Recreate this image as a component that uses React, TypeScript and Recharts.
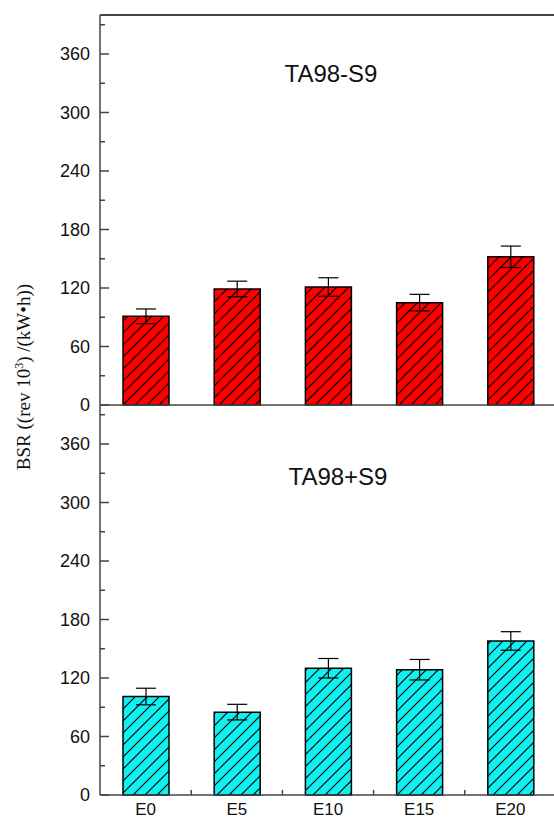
import React from 'react';
import { BarChart, Bar, XAxis, YAxis, ErrorBar, ReferenceLine } from 'recharts';

const categories = ['E0', 'E5', 'E10', 'E15', 'E20'];
const minusS9Values = [91, 119, 121, 105, 152];
const minusS9Errors = [7.5, 8, 9.5, 8.5, 11];
const plusS9Values = [101, 85, 130, 128.5, 158];
const plusS9Errors = [8.5, 8, 10, 10.5, 9.5];
const yTicks = [0, 30, 60, 90, 120, 150, 180, 210, 240, 270, 300, 330, 360, 390];
const yDomain = [0, 400];

const topData = categories.map((c, i) => ({ cat: c, value: minusS9Values[i], err: minusS9Errors[i] }));
const bottomData = categories.map((c, i) => ({ cat: c, value: plusS9Values[i], err: plusS9Errors[i] }));

const CHART_W = 570;
const Y_AXIS_W = 100;
const MARGIN_R = 14;
const PLOT_W = CHART_W - Y_AXIS_W - MARGIN_R;
const HALF_BAND = PLOT_W / categories.length / 2;
const AXIS_COLOR = '#444';
const SANS = '"Liberation Sans", Arial, sans-serif';
const SERIF = '"Liberation Serif", "Times New Roman", serif';

const YTick = (props: any) => {
  const { x, y, payload } = props;
  const v = payload.value;
  const major = v % 60 === 0;
  const ax = x + 10;
  return (
    <g>
      <line x1={ax} x2={ax + (major ? 9 : 5)} y1={y} y2={y} stroke={AXIS_COLOR} strokeWidth={1.5} />
      {major && (
        <text x={x} y={y} textAnchor="end" dominantBaseline="central" fontFamily={SANS} fontSize={18} fill="#111">
          {v}
        </text>
      )}
    </g>
  );
};

const XTick = (props: any) => {
  const { x, y, payload, index } = props;
  return (
    <g>
      {index > 0 && (
        <line x1={x - HALF_BAND} x2={x - HALF_BAND} y1={y} y2={y - 5} stroke={AXIS_COLOR} strokeWidth={1.5} />
      )}
      <text x={x} y={y + 20} textAnchor="middle" fontFamily={SANS} fontSize={17} fill="#111">
        {payload.value}
      </text>
    </g>
  );
};

const Hatch = ({ id, color }: { id: string; color: string }) => (
  <pattern id={id} patternUnits="userSpaceOnUse" width={12} height={12}>
    <rect width={12} height={12} fill={color} />
    <path d="M-1,1 L1,-1 M0,12 L12,0 M11,13 L13,11" stroke="#000" strokeWidth={1.2} />
  </pattern>
);

export default function App() {
  return (
    <div style={{ position: 'absolute', left: 0, top: 0, width: 554, height: 818, overflow: 'hidden', background: '#fff' }}>
      <div style={{ position: 'absolute', left: 0, top: 0 }}>
        <BarChart width={CHART_W} height={420} data={topData} margin={{ top: 15, right: MARGIN_R, bottom: 15, left: 0 }}>
          <defs>
            <Hatch id="hatchRed" color="#ff0000" />
          </defs>
          <XAxis dataKey="cat" hide />
          <YAxis
            width={Y_AXIS_W}
            domain={yDomain}
            ticks={yTicks}
            interval={0}
            tickSize={0}
            tickMargin={10}
            tickLine={false}
            tick={<YTick />}
            axisLine={{ stroke: AXIS_COLOR, strokeWidth: 1.5 }}
          />
          <ReferenceLine y={400} stroke={AXIS_COLOR} strokeWidth={2} />
          <ReferenceLine y={0} stroke={AXIS_COLOR} strokeWidth={1.5} />
          <Bar dataKey="value" barSize={46} fill="url(#hatchRed)" stroke="#000" strokeWidth={1.5} isAnimationActive={false}>
            <ErrorBar dataKey="err" width={10} stroke="#000" strokeWidth={1.2} />
          </Bar>
        </BarChart>
      </div>
      <div style={{ position: 'absolute', left: 0, top: 400 }}>
        <BarChart width={CHART_W} height={418} data={bottomData} margin={{ top: 5, right: MARGIN_R, bottom: 0, left: 0 }}>
          <defs>
            <Hatch id="hatchCyan" color="#10f0f0" />
          </defs>
          <XAxis
            dataKey="cat"
            height={23}
            tickSize={0}
            tickMargin={0}
            tickLine={false}
            tick={<XTick />}
            interval={0}
            axisLine={{ stroke: AXIS_COLOR, strokeWidth: 1.5 }}
          />
          <YAxis
            width={Y_AXIS_W}
            domain={yDomain}
            ticks={yTicks}
            interval={0}
            tickSize={0}
            tickMargin={10}
            tickLine={false}
            tick={<YTick />}
            axisLine={{ stroke: AXIS_COLOR, strokeWidth: 1.5 }}
          />
          <Bar dataKey="value" barSize={46} fill="url(#hatchCyan)" stroke="#000" strokeWidth={1.5} isAnimationActive={false}>
            <ErrorBar dataKey="err" width={10} stroke="#000" strokeWidth={1.2} />
          </Bar>
        </BarChart>
      </div>
      <svg style={{ position: 'absolute', left: 0, top: 0, pointerEvents: 'none' }} width={554} height={818}>
        <text x={331} y={81.7} textAnchor="middle" fontFamily={SANS} fontSize={24} fill="#111">TA98-S9</text>
        <text x={338} y={485} textAnchor="middle" fontFamily={SANS} fontSize={24} fill="#111">TA98+S9</text>
        <text transform="translate(30,377) rotate(-90)" textAnchor="middle" fontFamily={SERIF} fontSize={19} fill="#111">
          BSR ((rev 10<tspan dy={-7} fontSize={12}>3</tspan><tspan dy={7}>) /(kW•h))</tspan>
        </text>
      </svg>
    </div>
  );
}
